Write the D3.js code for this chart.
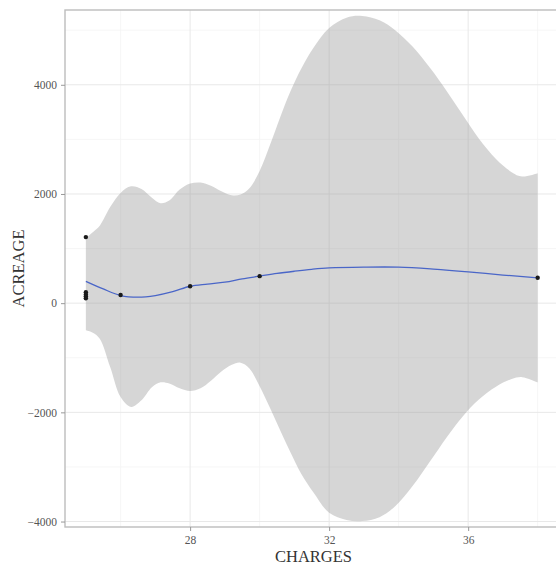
<!DOCTYPE html>
<html>
<head>
<meta charset="utf-8">
<script src="https://cdn.jsdelivr.net/npm/d3@7"></script>
<style>
  html, body { margin: 0; padding: 0; background: #ffffff; }
  svg { display: block; }
  text { font-family: "Liberation Serif", "Times New Roman", serif; }
</style>
</head>
<body>
<script>
// ---- data ----
const pointX = [25, 25, 25, 25, 25, 26, 28, 30, 38];
const pointY = [1210, 200, 160, 125, 90, 150, 310, 495, 465];

const fitX = [25, 25.5, 26, 26.5, 27, 27.5, 28, 28.5, 29, 29.5, 30, 30.5, 31, 31.5, 32, 33, 34, 35, 36, 37, 38];
const fitY = [400, 260, 140, 110, 140, 210, 310, 350, 385, 445, 495, 545, 585, 620, 645, 660, 660, 625, 575, 515, 465];

const bandX = [25, 25.2, 25.4, 25.7, 26, 26.3, 26.6, 26.9, 27.15, 27.4, 27.7, 28, 28.3, 28.6, 28.9, 29.2, 29.45, 29.7, 30, 30.3,
               30.6, 30.9, 31.2, 31.55, 32, 32.5, 32.95, 33.45, 33.9, 34.4, 34.9, 35.4, 35.85, 36.3, 36.8, 37.25, 37.55, 38];
const bandUpper = [1190, 1300, 1420, 1760, 2020, 2140, 2090, 1930, 1830, 1880, 2080, 2190, 2210, 2150, 2050, 1975, 1990, 2100, 2420, 2900,
                   3420, 3900, 4300, 4680, 5040, 5230, 5260, 5180, 5000, 4700, 4310, 3870, 3440, 3020, 2640, 2400, 2320, 2380];
const bandLower = [-495, -540, -650, -1170, -1720, -1900, -1780, -1540, -1450, -1470, -1560, -1610, -1560, -1420, -1250, -1130, -1090, -1190, -1520, -1920,
                   -2340, -2750, -3130, -3470, -3840, -3970, -3990, -3920, -3720, -3350, -2900, -2440, -2070, -1770, -1530, -1390, -1355, -1450];

const xMajor = [28, 32, 36];
const xMinor = [26, 30, 34, 38];
const yMajor = [-4000, -2000, 0, 2000, 4000];
const yMinor = [-3000, -1000, 1000, 3000, 5000];

const xTitle = "CHARGES";
const yTitle = "ACREAGE";

// ---- layout ----
const W = 556, H = 568;
const panel = { left: 65, right: 562, top: 10, bottom: 527 };

const svg = d3.select("body").append("svg").attr("width", W).attr("height", H);

const x = d3.scaleLinear().domain([24.4, 38.7]).range([panel.left, panel.right]);
const y = d3.scaleLinear().domain([-4100, 5370]).range([panel.bottom, panel.top]);

// panel background
svg.append("rect")
  .attr("x", panel.left).attr("y", panel.top)
  .attr("width", panel.right - panel.left).attr("height", panel.bottom - panel.top)
  .attr("fill", "#ffffff");

const grid = svg.append("g");
grid.selectAll("line.xmin").data(xMinor).join("line")
  .attr("x1", d => x(d)).attr("x2", d => x(d))
  .attr("y1", panel.top).attr("y2", panel.bottom)
  .attr("stroke", "#f4f4f4").attr("stroke-width", 0.8);
grid.selectAll("line.ymin").data(yMinor).join("line")
  .attr("y1", d => y(d)).attr("y2", d => y(d))
  .attr("x1", panel.left).attr("x2", panel.right)
  .attr("stroke", "#f4f4f4").attr("stroke-width", 0.8);
grid.selectAll("line.xmaj").data(xMajor).join("line")
  .attr("x1", d => x(d)).attr("x2", d => x(d))
  .attr("y1", panel.top).attr("y2", panel.bottom)
  .attr("stroke", "#e8e8e8").attr("stroke-width", 1);
grid.selectAll("line.ymaj").data(yMajor).join("line")
  .attr("y1", d => y(d)).attr("y2", d => y(d))
  .attr("x1", panel.left).attr("x2", panel.right)
  .attr("stroke", "#e8e8e8").attr("stroke-width", 1);

// confidence ribbon
const band = bandX.map((d, i) => ({ x: d, lo: bandLower[i], hi: bandUpper[i] }));
const area = d3.area()
  .x(d => x(d.x)).y0(d => y(d.lo)).y1(d => y(d.hi))
  .curve(d3.curveCatmullRom.alpha(0.5));
svg.append("path").datum(band)
  .attr("d", area)
  .attr("fill", "#999999").attr("fill-opacity", 0.4);

// smooth line
const fit = fitX.map((d, i) => ({ x: d, y: fitY[i] }));
const line = d3.line().x(d => x(d.x)).y(d => y(d.y)).curve(d3.curveCatmullRom.alpha(0.5));
svg.append("path").datum(fit)
  .attr("d", line)
  .attr("fill", "none").attr("stroke", "#4a66c8").attr("stroke-width", 1.3);

// points
const pts = pointX.map((d, i) => ({ x: d, y: pointY[i] }));
svg.append("g").selectAll("circle").data(pts).join("circle")
  .attr("cx", d => x(d.x)).attr("cy", d => y(d.y)).attr("r", 2.2)
  .attr("fill", "#1a1a1a");

// panel border (right side falls off the image)
svg.append("rect")
  .attr("x", panel.left).attr("y", panel.top)
  .attr("width", panel.right - panel.left).attr("height", panel.bottom - panel.top)
  .attr("fill", "none").attr("stroke", "#bdbdbd").attr("stroke-width", 1.4);

// axes
const xAxis = d3.axisBottom(x).tickValues(xMajor).tickSize(4).tickPadding(5).tickFormat(d3.format("d"));
const gx = svg.append("g").attr("transform", `translate(0,${panel.bottom})`).call(xAxis);
gx.select(".domain").remove();
gx.selectAll(".tick line").attr("stroke", "#999999");
gx.selectAll(".tick text").attr("fill", "#555555").attr("font-size", 11.5)
  .attr("font-family", "'Liberation Serif', 'Times New Roman', serif");

const yAxis = d3.axisLeft(y).tickValues(yMajor).tickSize(4).tickPadding(4).tickFormat(d3.format("d"));
const gy = svg.append("g").attr("transform", `translate(${panel.left},0)`).call(yAxis);
gy.select(".domain").remove();
gy.selectAll(".tick line").attr("stroke", "#999999");
gy.selectAll(".tick text").attr("fill", "#555555").attr("font-size", 11.5)
  .attr("font-family", "'Liberation Serif', 'Times New Roman', serif");

// axis titles
svg.append("text")
  .attr("x", (panel.left + panel.right) / 2).attr("y", 562)
  .attr("text-anchor", "middle").attr("font-size", 16.5).attr("fill", "#333333")
  .text(xTitle);
svg.append("text")
  .attr("transform", `translate(24,${(panel.top + panel.bottom) / 2}) rotate(-90)`)
  .attr("text-anchor", "middle").attr("font-size", 16.5).attr("fill", "#333333")
  .text(yTitle);
</script>
</body>
</html>
